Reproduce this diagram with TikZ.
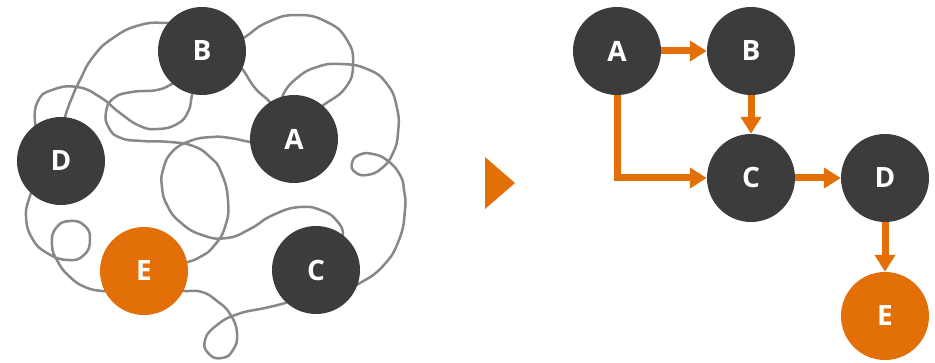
\documentclass[tikz,border=0pt]{standalone}
\usepackage{fontspec}
\setmainfont{Open Sans}
\usetikzlibrary{arrows.meta}
\definecolor{dark}{HTML}{3C3C3C}
\definecolor{orng}{HTML}{E36F09}
\definecolor{wire}{HTML}{888888}
\tikzset{
  nd/.style={circle, fill=dark, minimum size=88pt, inner sep=0pt, text=white,
    font=\fontsize{28}{30}\selectfont\bfseries},
  ndE/.style={nd, fill=orng},
  tangle/.style={draw=wire, line width=2.5pt, smooth, tension=0.85},
  flow/.style={draw=orng, line width=7pt, -{Triangle[length=17pt,width=20pt]}}
}
\begin{document}
\begin{tikzpicture}[x=1pt,y=-1pt]
\useasboundingbox (0,0) rectangle (935,363);
% tangled curves
\draw[tangle] plot coordinates {(180,25) (167,23) (140,25) (113,38) (93,57) (80,80) (71,100) (65,117) (62,130)};
\draw[tangle] plot coordinates {(40,135) (35,122) (38,101) (52,90) (77,87) (100,97) (120,113) (140,126) (158,129) (177,124) (188,112) (192,95) (195,85)};
\draw[tangle] plot coordinates {(180,80) (172,84) (157,90) (132,92) (114,98) (106,112) (109,128) (121,138) (142,141) (170,142) (193,146) (210,157) (221,172) (228,200) (225,227) (213,247) (200,257) (188,262) (178,265)};
\draw[tangle] plot coordinates {(260,143) (250,142) (230,138) (212,137) (190,141) (172,152) (163,170) (162,187) (167,205) (180,222) (202,235) (227,238) (250,229) (273,215) (300,207) (323,211) (337,221) (343,233) (340,240)};
\draw[tangle] plot coordinates {(235,42) (245,37) (268,22) (297,15) (327,22) (347,40) (353,64) (346,87) (325,104) (315,110)};
\draw[tangle] plot coordinates {(235,62) (243,70) (255,88) (268,100) (275,108)};
\draw[tangle] plot coordinates {(285,105) (283,95) (297,78) (317,67) (340,64) (367,69) (387,84) (397,108) (398,133) (393,153) (382,168) (367,175) (355,172) (352,163) (359,155) (373,154) (388,161) (400,175) (404,190) (405,210) (399,240) (383,266) (360,283) (350,286)};
\draw[tangle] plot coordinates {(290,300) (285,303) (265,308) (238,314) (217,325) (205,340) (209,354) (222,358) (233,350) (237,333) (230,314) (217,301) (202,292) (185,291) (178,290)};
\draw[tangle] plot coordinates {(35,185) (30,196) (26,216) (32,238) (47,253) (68,260) (84,255) (90,240) (85,226) (70,221) (56,228) (52,245) (58,262) (70,277) (85,287) (102,291) (110,290)};
% left nodes
\node[nd]  (lB) at (202,51)  {B};
\node[nd]  (lA) at (294,139) {A};
\node[nd]  (lD) at (61,161)  {D};
\node[ndE] (lE) at (144,271) {E};
\node[nd]  (lC) at (316,270) {C};
% middle triangle
\fill[orng] (485,157) -- (485,209) -- (515,183) -- cycle;
% right nodes
\node[nd]  (A) at (617,51)  {A};
\node[nd]  (B) at (751,51)  {B};
\node[nd]  (C) at (751,178) {C};
\node[nd]  (D) at (885,178) {D};
\node[ndE] (E) at (885,316) {E};
% arrows
\draw[flow] (A.east) -- (B.west);
\draw[flow] (B.south) -- (C.north);
\draw[flow] (A.south) |- (C.west);
\draw[flow] (C.east) -- (D.west);
\draw[flow] (D.south) -- (E.north);
\end{tikzpicture}
\end{document}
